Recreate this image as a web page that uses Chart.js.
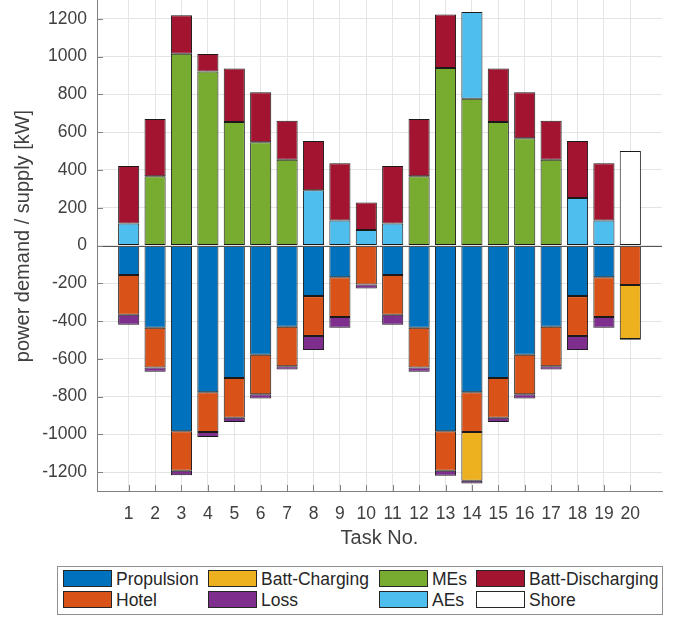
<!DOCTYPE html>
<html>
<head>
<meta charset="utf-8">
<script src="https://cdn.jsdelivr.net/npm/chart.js@4.4.1/dist/chart.umd.min.js"></script>
<style>
  html, body { margin: 0; padding: 0; background: #fff; }
  #wrap { position: relative; width: 680px; height: 619px; }
  #legend {
    position: absolute; left: 57px; top: 566px; width: 606px; height: 49px;
    box-sizing: border-box; border: 1px solid #8f8f8f; background: #fff;
    font-family: "Liberation Sans", Arial, sans-serif; font-size: 17.5px; color: #262626;
  }
  .item { position: absolute; height: 17px; white-space: nowrap; }
  .sw { position: absolute; left: 0; top: 0; width: 47px; height: 15px; border: 1px solid #262626; }
  .lbl { position: absolute; left: 53px; top: -1px; line-height: 20px; }
</style>
</head>
<body>
<div id="wrap">
  <canvas id="chart" width="680" height="619"></canvas>
  <div id="legend"></div>
</div>
<script>
// Power balance per task (kW). Demand is negative, supply positive.
const TASKS = [1, 2, 3, 4, 5, 6, 7, 8, 9, 10, 11, 12, 13, 14, 15, 16, 17, 18, 19, 20];

const PROPULSION     = [-156, -435, -984, -777, -702, -579, -430, -268, -168, 0, -156, -435, -984, -777, -702, -579, -430, -268, -168, 0];
const HOTEL          = [-211, -211, -209, -211, -210, -209, -210, -211, -211, -207, -211, -211, -209, -211, -210, -209, -210, -211, -211, -209];
const BATT_CHARGING  = [0, 0, 0, 0, 0, 0, 0, 0, 0, 0, 0, 0, 0, -258, 0, 0, 0, 0, 0, -286];
const LOSS           = [-52, -22, -24, -26, -23, -22, -16, -75, -56, -21, -52, -22, -26, -14, -23, -22, -16, -75, -56, -4];
const MES            = [0, 367, 1016, 921, 654, 547, 454, 0, 0, 0, 0, 367, 940, 777, 654, 568, 454, 0, 0, 0];
const AES            = [117, 0, 0, 0, 0, 0, 0, 293, 132, 82, 117, 0, 0, 460, 0, 0, 0, 251, 132, 0];
const BATT_DISCHARGE = [304, 303, 203, 93, 283, 265, 206, 261, 303, 146, 304, 303, 283, 0, 283, 244, 206, 303, 303, 0];
const SHORE          = [0, 0, 0, 0, 0, 0, 0, 0, 0, 0, 0, 0, 0, 0, 0, 0, 0, 0, 0, 500];

const Y_TICKS = [-1200, -1000, -800, -600, -400, -200, 0, 200, 400, 600, 800, 1000, 1200];
const Y_TITLE = 'power demand / supply [kW]';

const FONT = '"Liberation Sans", Arial, sans-serif';
const AXIS_COLOR = '#808080';
const GRID_COLOR = '#e4e4e4';
const TEXT_COLOR = '#404040';

// Stacking order: demand parts first, then supply parts
const SERIES = [
  { label: 'Propulsion',       values: PROPULSION,     color: '#0072BD' },
  { label: 'Hotel',            values: HOTEL,          color: '#D95319' },
  { label: 'Batt-Charging',    values: BATT_CHARGING,  color: '#EDB120' },
  { label: 'Loss',             values: LOSS,           color: '#7E2F8E' },
  { label: 'MEs',              values: MES,            color: '#77AC30' },
  { label: 'AEs',              values: AES,            color: '#4DBEEE' },
  { label: 'Batt-Discharging', values: BATT_DISCHARGE, color: '#A2142F' },
  { label: 'Shore',            values: SHORE,          color: '#FFFFFF' }
];

// Legend reads row by row in four columns
const LEGEND_ORDER = ['Propulsion', 'Batt-Charging', 'MEs', 'Batt-Discharging', 'Hotel', 'Loss', 'AEs', 'Shore'];
const LEGEND_COLS = [5, 150, 321, 418];
const LEGEND_ROWS = [3, 24];

const datasets = SERIES.map(s => ({
  label: s.label,
  data: TASKS.map((t, i) => ({ x: t, y: s.values[i] === 0 ? null : s.values[i] })),
  backgroundColor: s.color,
  borderColor: '#1a1a1a',
  borderWidth: 1,
  borderSkipped: false,
  barPercentage: 0.8,
  categoryPercentage: 1.0
}));

// Zero baseline, inward tick marks and the vertical axis title
const axisDecor = {
  id: 'axisDecor',
  afterDatasetsDraw(chart) {
    const { ctx, chartArea: a, scales: { x, y } } = chart;
    ctx.save();
    ctx.lineWidth = 1;
    ctx.strokeStyle = '#555555';
    const y0 = Math.round(y.getPixelForValue(0)) + 0.5;
    ctx.beginPath();
    ctx.moveTo(a.left, y0);
    ctx.lineTo(a.right, y0);
    ctx.stroke();

    ctx.strokeStyle = AXIS_COLOR;
    ctx.beginPath();
    Y_TICKS.forEach(v => {
      const py = Math.round(y.getPixelForValue(v)) + 0.5;
      ctx.moveTo(a.left, py);
      ctx.lineTo(a.left + 6, py);
    });
    TASKS.forEach(t => {
      const px = Math.round(x.getPixelForValue(t)) + 0.5;
      ctx.moveTo(px, a.bottom);
      ctx.lineTo(px, a.bottom - 6);
    });
    ctx.stroke();

    ctx.translate(23, 236);
    ctx.rotate(-Math.PI / 2);
    ctx.font = '20px ' + FONT;
    ctx.fillStyle = TEXT_COLOR;
    ctx.textAlign = 'center';
    ctx.textBaseline = 'middle';
    ctx.fillText(Y_TITLE, 0, 0);
    ctx.restore();
  }
};

new Chart(document.getElementById('chart'), {
  type: 'bar',
  data: { datasets },
  options: {
    responsive: false,
    animation: false,
    devicePixelRatio: 1,
    layout: { padding: { top: 0, right: 18, bottom: 69, left: 0 } },
    plugins: { legend: { display: false }, tooltip: { enabled: false } },
    scales: {
      x: {
        type: 'linear',
        stacked: true,
        offset: false,
        min: -0.2,
        max: 21.2,
        afterBuildTicks: s => { s.ticks = TASKS.map(v => ({ value: v })); },
        afterFit: s => { s.height = 59; s.paddingLeft = 0; s.paddingRight = 0; },
        grid: { color: GRID_COLOR, drawTicks: false, offset: false },
        border: { color: AXIS_COLOR, width: 1 },
        ticks: {
          autoSkip: false, maxRotation: 0, padding: 13,
          color: TEXT_COLOR, font: { family: FONT, size: 17.5 },
          callback: v => String(v)
        },
        title: {
          display: true, text: 'Task No.', color: TEXT_COLOR,
          font: { family: FONT, size: 20 }, padding: { top: 0, bottom: 0 }
        }
      },
      y: {
        stacked: true,
        min: -1300,
        max: 1300,
        afterBuildTicks: s => { s.ticks = Y_TICKS.map(v => ({ value: v })); },
        afterFit: s => { s.width = 97; s.paddingTop = 0; s.paddingBottom = 0; },
        grid: { color: GRID_COLOR, drawTicks: false },
        border: { color: AXIS_COLOR, width: 1 },
        ticks: {
          padding: 10, color: TEXT_COLOR, font: { family: FONT, size: 17.5 },
          callback: v => String(v)
        },
        title: { display: false }
      }
    }
  },
  plugins: [axisDecor]
});

// Legend box
const legend = document.getElementById('legend');
LEGEND_ORDER.forEach((name, k) => {
  const s = SERIES.find(d => d.label === name);
  const item = document.createElement('div');
  item.className = 'item';
  item.style.left = LEGEND_COLS[k % 4] + 'px';
  item.style.top = LEGEND_ROWS[Math.floor(k / 4)] + 'px';
  const sw = document.createElement('div');
  sw.className = 'sw';
  sw.style.background = s.color;
  const lbl = document.createElement('span');
  lbl.className = 'lbl';
  lbl.textContent = name;
  item.appendChild(sw);
  item.appendChild(lbl);
  legend.appendChild(item);
});
</script>
</body>
</html>
